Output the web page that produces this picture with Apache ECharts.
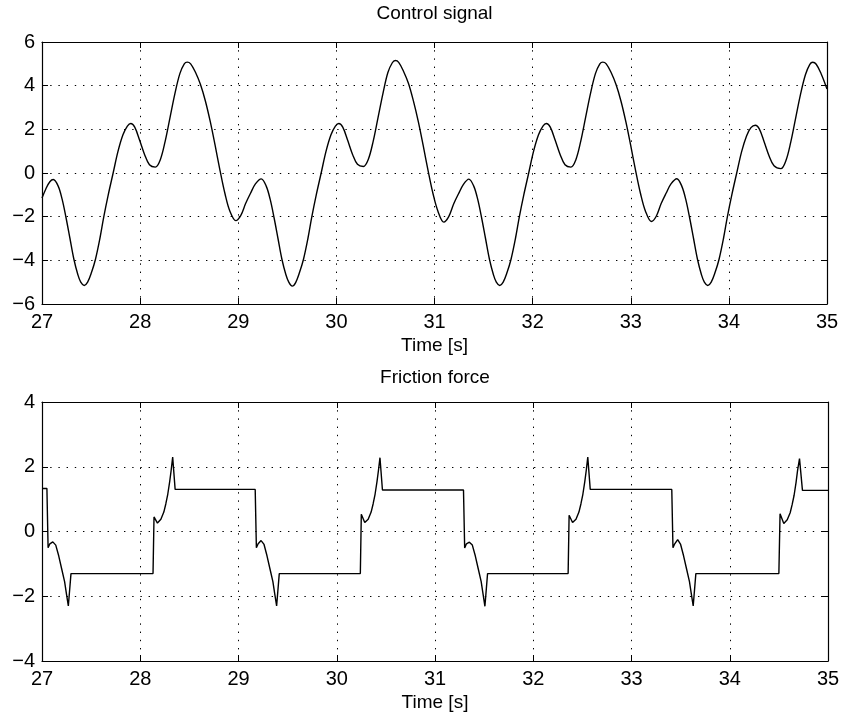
<!DOCTYPE html>
<html><head><meta charset="utf-8">
<script src="https://cdn.jsdelivr.net/npm/echarts@6/dist/echarts.min.js"></script>
<style>html,body{margin:0;padding:0;background:#fff}#c{width:845px;height:715px}</style>
</head><body><div id="c"></div>
<script>
const xTickLabels = [27, 28, 29, 30, 31, 32, 33, 34, 35];
const controlTicks = [-6, -4, -2, 0, 2, 4, 6];
const frictionTicks = [-4, -2, 0, 2, 4];
const titles = ['Control signal', 'Friction force'];
const xName = 'Time [s]';

const controlTime = [
27.0, 27.04, 27.08,
27.115, 27.165, 27.205, 27.245, 27.285, 27.325, 27.365, 27.395, 27.43, 27.465, 27.505, 27.545, 27.59, 27.63, 27.675, 27.725, 27.775, 27.825, 27.87, 27.905, 27.945, 27.995, 28.045, 28.095, 28.155, 28.205, 28.255, 28.305, 28.355, 28.405, 28.45, 28.48, 28.515, 28.565, 28.615, 28.665, 28.715, 28.765, 28.815, 28.865, 28.915, 28.975, 29.025, 29.075, 29.125, 29.175,
29.235, 29.285, 29.325, 29.365, 29.405, 29.445, 29.485, 29.515, 29.55, 29.585, 29.625, 29.665, 29.71, 29.75, 29.795, 29.845, 29.895, 29.945, 29.99, 30.025, 30.065, 30.115, 30.165, 30.215, 30.275, 30.325, 30.375, 30.425, 30.475, 30.525, 30.57, 30.60, 30.635, 30.685, 30.735, 30.785, 30.835, 30.885, 30.935, 30.985, 31.035, 31.095, 31.145, 31.195, 31.245, 31.295,
31.35, 31.40, 31.44, 31.48, 31.52, 31.56, 31.60, 31.63, 31.665, 31.70, 31.74, 31.78, 31.825, 31.865, 31.91, 31.96, 32.01, 32.06, 32.105, 32.14, 32.18, 32.23, 32.28, 32.33, 32.39, 32.44, 32.49, 32.54, 32.59, 32.64, 32.685, 32.715, 32.75, 32.80, 32.85, 32.90, 32.95, 33.00, 33.05, 33.10, 33.15, 33.21, 33.26, 33.31, 33.36, 33.41,
33.47, 33.52, 33.56, 33.60, 33.64, 33.68, 33.72, 33.75, 33.785, 33.82, 33.86, 33.90, 33.945, 33.985, 34.03, 34.08, 34.13, 34.18, 34.225, 34.27, 34.31, 34.36, 34.41, 34.46, 34.53, 34.58, 34.63, 34.68, 34.73, 34.78, 34.825, 34.855, 34.89, 34.94, 35.0
];
const controlValue = [
-1.15, -0.72, -0.40,
-0.30, -0.60, -1.20, -2.05, -3.00, -3.95, -4.65, -5.00, -5.15, -5.00, -4.55, -3.95, -3.00, -2.00, -1.00, 0.00, 1.00, 1.75, 2.15, 2.27, 2.10, 1.50, 0.85, 0.38, 0.27, 0.60, 1.45, 2.55, 3.65, 4.55, 5.00, 5.08, 5.00, 4.60, 4.05, 3.30, 2.35, 1.25, 0.10, -0.95, -1.75, -2.18, -1.95, -1.40, -0.93, -0.50,
-0.27, -0.60, -1.20, -2.05, -3.00, -3.95, -4.65, -5.00, -5.18, -5.02, -4.55, -3.95, -3.00, -2.00, -1.00, 0.00, 1.00, 1.75, 2.15, 2.27, 2.10, 1.50, 0.85, 0.40, 0.30, 0.62, 1.45, 2.55, 3.65, 4.60, 5.05, 5.15, 5.07, 4.65, 4.10, 3.30, 2.35, 1.25, 0.10, -0.95, -1.75, -2.25, -2.00, -1.42, -0.95, -0.52,
-0.28, -0.60, -1.20, -2.05, -3.00, -3.95, -4.65, -5.00, -5.15, -5.00, -4.55, -3.95, -3.00, -2.00, -1.00, 0.00, 1.00, 1.75, 2.15, 2.27, 2.10, 1.50, 0.85, 0.38, 0.27, 0.60, 1.45, 2.55, 3.65, 4.55, 5.00, 5.08, 5.00, 4.60, 4.05, 3.30, 2.35, 1.25, 0.10, -0.95, -1.75, -2.22, -1.98, -1.40, -0.93, -0.50,
-0.26, -0.60, -1.20, -2.05, -3.00, -3.95, -4.65, -5.00, -5.15, -5.00, -4.55, -3.95, -3.00, -2.00, -1.00, 0.00, 0.98, 1.70, 2.08, 2.19, 2.02, 1.42, 0.78, 0.33, 0.20, 0.55, 1.40, 2.50, 3.60, 4.50, 4.98, 5.07, 4.98, 4.55, 3.85
];

const frictionTime = [
27.000, 27.050, 27.062, 27.080, 27.110, 27.140, 27.170, 27.200, 27.230, 27.250, 27.268, 27.295,
28.130, 28.140, 28.175, 28.210, 28.240, 28.260, 28.280, 28.300, 28.315, 28.330, 28.355,
29.170, 29.182, 29.200, 29.230, 29.260, 29.290, 29.320, 29.350, 29.370, 29.388, 29.415,
30.240, 30.250, 30.285, 30.320, 30.350, 30.370, 30.390, 30.410, 30.425, 30.440, 30.465,
31.290, 31.302, 31.320, 31.350, 31.380, 31.410, 31.440, 31.470, 31.490, 31.508, 31.535,
32.355, 32.365, 32.400, 32.435, 32.465, 32.485, 32.505, 32.525, 32.540, 32.555, 32.580,
33.410, 33.422, 33.440, 33.470, 33.500, 33.530, 33.560, 33.590, 33.610, 33.628, 33.655,
34.500, 34.512, 34.550, 34.585, 34.615, 34.635, 34.655, 34.675, 34.690, 34.710, 34.740, 35.000
];
const frictionValue = [
1.33, 1.33, -0.50, -0.38, -0.32, -0.42, -0.75, -1.15, -1.55, -1.95, -2.30, -1.30,
-1.30, 0.45, 0.26, 0.38, 0.60, 0.85, 1.15, 1.55, 1.90, 2.30, 1.30,
1.30, -0.50, -0.38, -0.28, -0.40, -0.75, -1.15, -1.55, -1.95, -2.30, -1.30,
-1.30, 0.53, 0.28, 0.38, 0.60, 0.85, 1.15, 1.55, 1.90, 2.28, 1.28,
1.28, -0.51, -0.38, -0.33, -0.42, -0.75, -1.15, -1.55, -1.95, -2.31, -1.30,
-1.30, 0.50, 0.28, 0.38, 0.60, 0.85, 1.15, 1.55, 1.90, 2.30, 1.30,
1.30, -0.50, -0.38, -0.25, -0.40, -0.75, -1.15, -1.55, -1.95, -2.30, -1.30,
-1.30, 0.55, 0.25, 0.36, 0.58, 0.83, 1.12, 1.52, 1.88, 2.25, 1.27, 1.27
];

const FONT = 'Liberation Sans';
const fmtY = v => (v < 0 ? '\u2212' + (-v) : String(v));
const dotted = { color: '#000', width: 1, type: [1.4, 6.8] };
const boxLine = { show: true, onZero: false, lineStyle: { color: '#000', width: 1.2 } };
const tick = { show: true, inside: true, length: 6, lineStyle: { color: '#000', width: 1 } };

const grids = [
  { left: 42, top: 42, width: 785, height: 262 },
  { left: 42, top: 402, width: 786, height: 259 }
];
const yRanges = [controlTicks, frictionTicks];

const xAxis = [], yAxis = [], title = [];
grids.forEach((g, i) => {
  const ticks = yRanges[i];
  xAxis.push({
    type: 'value', gridIndex: i, min: xTickLabels[0], max: xTickLabels[xTickLabels.length - 1], interval: 1,
    position: 'bottom', axisLine: boxLine, axisTick: tick,
    axisLabel: { color: '#000', fontFamily: FONT, fontSize: 20, margin: 8 },
    splitLine: { show: true, lineStyle: dotted },
    name: xName, nameLocation: 'middle', nameGap: 32,
    nameTextStyle: { color: '#000', fontFamily: FONT, fontSize: 19 }
  });
  xAxis.push({
    type: 'value', gridIndex: i, min: xTickLabels[0], max: xTickLabels[xTickLabels.length - 1], interval: 1,
    position: 'top', axisLine: boxLine, axisTick: tick, axisLabel: { show: false }, splitLine: { show: false }
  });
  yAxis.push({
    type: 'value', gridIndex: i, min: ticks[0], max: ticks[ticks.length - 1], interval: 2,
    position: 'left', axisLine: boxLine, axisTick: tick,
    axisLabel: { color: '#000', fontFamily: FONT, fontSize: 20, margin: 7, formatter: fmtY },
    splitLine: { show: true, lineStyle: dotted }
  });
  yAxis.push({
    type: 'value', gridIndex: i, min: ticks[0], max: ticks[ticks.length - 1], interval: 2,
    position: 'right', axisLine: boxLine, axisTick: tick, axisLabel: { show: false }, splitLine: { show: false }
  });
  title.push({
    text: titles[i], left: g.left + g.width / 2, top: i === 0 ? 4 : 368, textAlign: 'center', padding: 0,
    textStyle: { color: '#000', fontFamily: FONT, fontSize: 19, fontWeight: 'normal' }
  });
});

const controlData = controlTime.map((t, k) => [t, controlValue[k]]);
const frictionData = frictionTime.map((t, k) => [t, frictionValue[k]]);

const chart = echarts.init(document.getElementById('c'), null, { renderer: 'canvas' });
chart.setOption({
  animation: false,
  backgroundColor: '#fff',
  title,
  grid: grids,
  xAxis, yAxis,
  series: [
    { type: 'line', xAxisIndex: 0, yAxisIndex: 0, data: controlData, showSymbol: false, smooth: 0.35,
      lineStyle: { color: '#000', width: 1.4 } },
    { type: 'line', xAxisIndex: 2, yAxisIndex: 2, data: frictionData, showSymbol: false, smooth: false,
      lineStyle: { color: '#000', width: 1.4 } }
  ]
});
</script>
</body></html>
